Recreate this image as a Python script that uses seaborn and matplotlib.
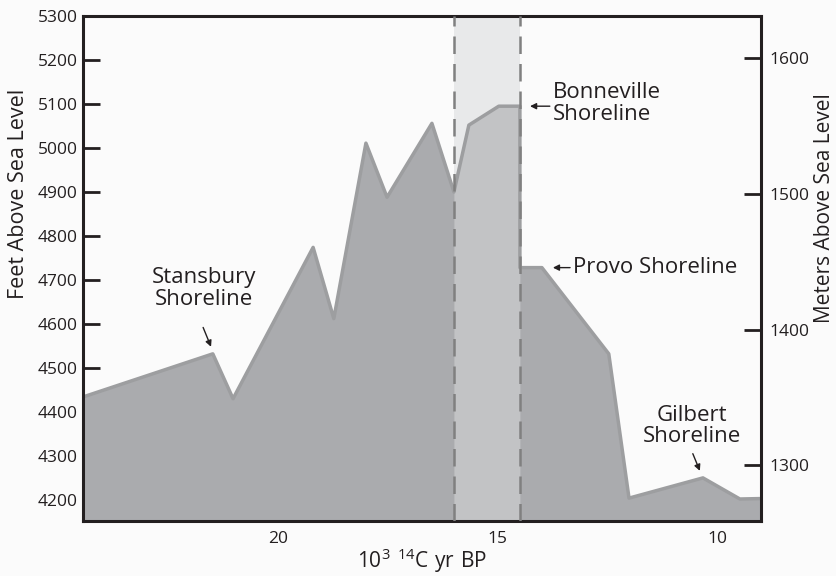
import numpy as np
import pandas as pd
import matplotlib
matplotlib.use("Agg")
import matplotlib.pyplot as plt
import seaborn as sns

# ── Data: Lake Bonneville level through time ──────────────────────────────────
age_kyr = [24.43, 21.48, 21.02, 19.2, 18.73, 18.0, 17.52, 16.5, 16.0,
           15.66, 14.98, 14.5, 14.5, 14.0, 12.48, 12.02, 10.34, 9.5, 9.02]
elev_ft = [4434, 4532, 4430, 4774, 4612, 5011, 4888, 5056, 4900,
           5052, 5095, 5095, 4728, 4728, 4532, 4204, 4250, 4202, 4203]

band_kyr = [16.0, 14.5]          # Bonneville highstand window
ft_ticks = list(range(4200, 5301, 100))
m_ticks = [1300, 1400, 1500, 1600]
age_major = [20, 15, 10]
age_minor = list(range(10, 25))

shorelines = ["Stansbury\nShoreline", "Bonneville\nShoreline",
              "Provo Shoreline", "Gilbert\nShoreline"]

df = pd.DataFrame({"age": age_kyr, "elev": elev_ft})

# ── Style ─────────────────────────────────────────────────────────────────────
sns.set_theme(style="white")
plt.rcParams["font.family"] = ["Open Sans", "DejaVu Sans"]
plt.rcParams["text.color"] = "#231f20"
bg = "#fbfbfb"
ink = "#231f20"

fig = plt.figure(figsize=(8.36, 5.76), dpi=100, facecolor=bg)
ax = fig.add_axes([0.0993, 0.0955, 0.8110, 0.8767])
ax.set_facecolor(bg)

ax.set_xlim(24.43, 9.02)
ax.set_ylim(4152, 5300)

# highstand band
ax.axvspan(band_kyr[0], band_kyr[1], color="#e8e9ea", zorder=0, lw=0)

# lake level fill + outline
x = np.array(age_kyr)
y = np.array(elev_ft)
ax.fill_between(x, 4152, y, color="#aaabae", lw=0, zorder=1)
in_band = (x <= band_kyr[0]) & (x >= band_kyr[1])
ax.fill_between(x, 4152, y, where=in_band, color="#c2c3c5", lw=0, zorder=1.5)
sns.lineplot(data=df, x="age", y="elev", estimator=None, sort=False,
             color="#9d9ea0", lw=2.5, ax=ax, zorder=2)

for b in band_kyr:
    ax.axvline(b, color="#808080", lw=1.8, ls=(0, (7, 4)), zorder=3)

# ── Axes cosmetics ────────────────────────────────────────────────────────────
for s in ax.spines.values():
    s.set_color(ink)
    s.set_linewidth(2.2)

ax.set_yticks(ft_ticks)
ax.set_xticks(age_major)
ax.set_xticks(age_minor, minor=True)
ax.tick_params(axis="y", direction="in", length=12, width=2, color=ink,
               labelsize=12.5, labelcolor=ink, pad=4, left=True)
ax.tick_params(axis="x", which="both", direction="in", length=8, width=1.6,
               color=ink, labelsize=12.5, labelcolor=ink, pad=7, bottom=True)
ax.set_xlabel(r"$\mathregular{10^{3}\ ^{14}C\ yr\ BP}$", fontsize=15, color=ink)
ax.set_ylabel("Feet Above Sea Level", fontsize=15.5, color=ink)
ax.xaxis.set_label_coords(0.5, -0.05)
ax.yaxis.set_label_coords(-0.08, 0.648)

ax2 = ax.twinx()
ax2.set_ylim(1259, 1631)
ax2.set_yticks(m_ticks)
ax2.tick_params(axis="y", direction="in", length=12, width=2, color=ink,
                labelsize=12.5, labelcolor=ink, pad=6, right=True)
for s in ax2.spines.values():
    s.set_visible(False)
ax2.set_ylabel("Meters Above Sea Level", fontsize=15, color=ink)
ax2.yaxis.set_label_coords(1.078, 0.62)

# ── Shoreline annotations ─────────────────────────────────────────────────────
arrow = dict(arrowstyle="-|>", color=ink, lw=1, mutation_scale=9,
             shrinkA=0, shrinkB=0)
fs = 16
ax.text(21.68, 4680, shorelines[0], ha="center", va="center", fontsize=fs,
        linespacing=1.05)
ax.annotate("", xy=(21.52, 4548), xytext=(21.70, 4592), arrowprops=arrow)

ax.text(13.75, 5102, shorelines[1], ha="left", va="center", fontsize=fs,
        linespacing=1.05)
ax.annotate("", xy=(14.27, 5095), xytext=(13.82, 5095), arrowprops=arrow)

ax.text(13.3, 4728, shorelines[2], ha="left", va="center", fontsize=fs)
ax.annotate("", xy=(13.75, 4728), xytext=(13.36, 4728), arrowprops=arrow)

ax.text(10.6, 4368, shorelines[3], ha="center", va="center", fontsize=fs,
        linespacing=1.05)
ax.annotate("", xy=(10.41, 4266), xytext=(10.57, 4305), arrowprops=arrow)

fig.savefig("out.png", dpi=100, facecolor=bg)
